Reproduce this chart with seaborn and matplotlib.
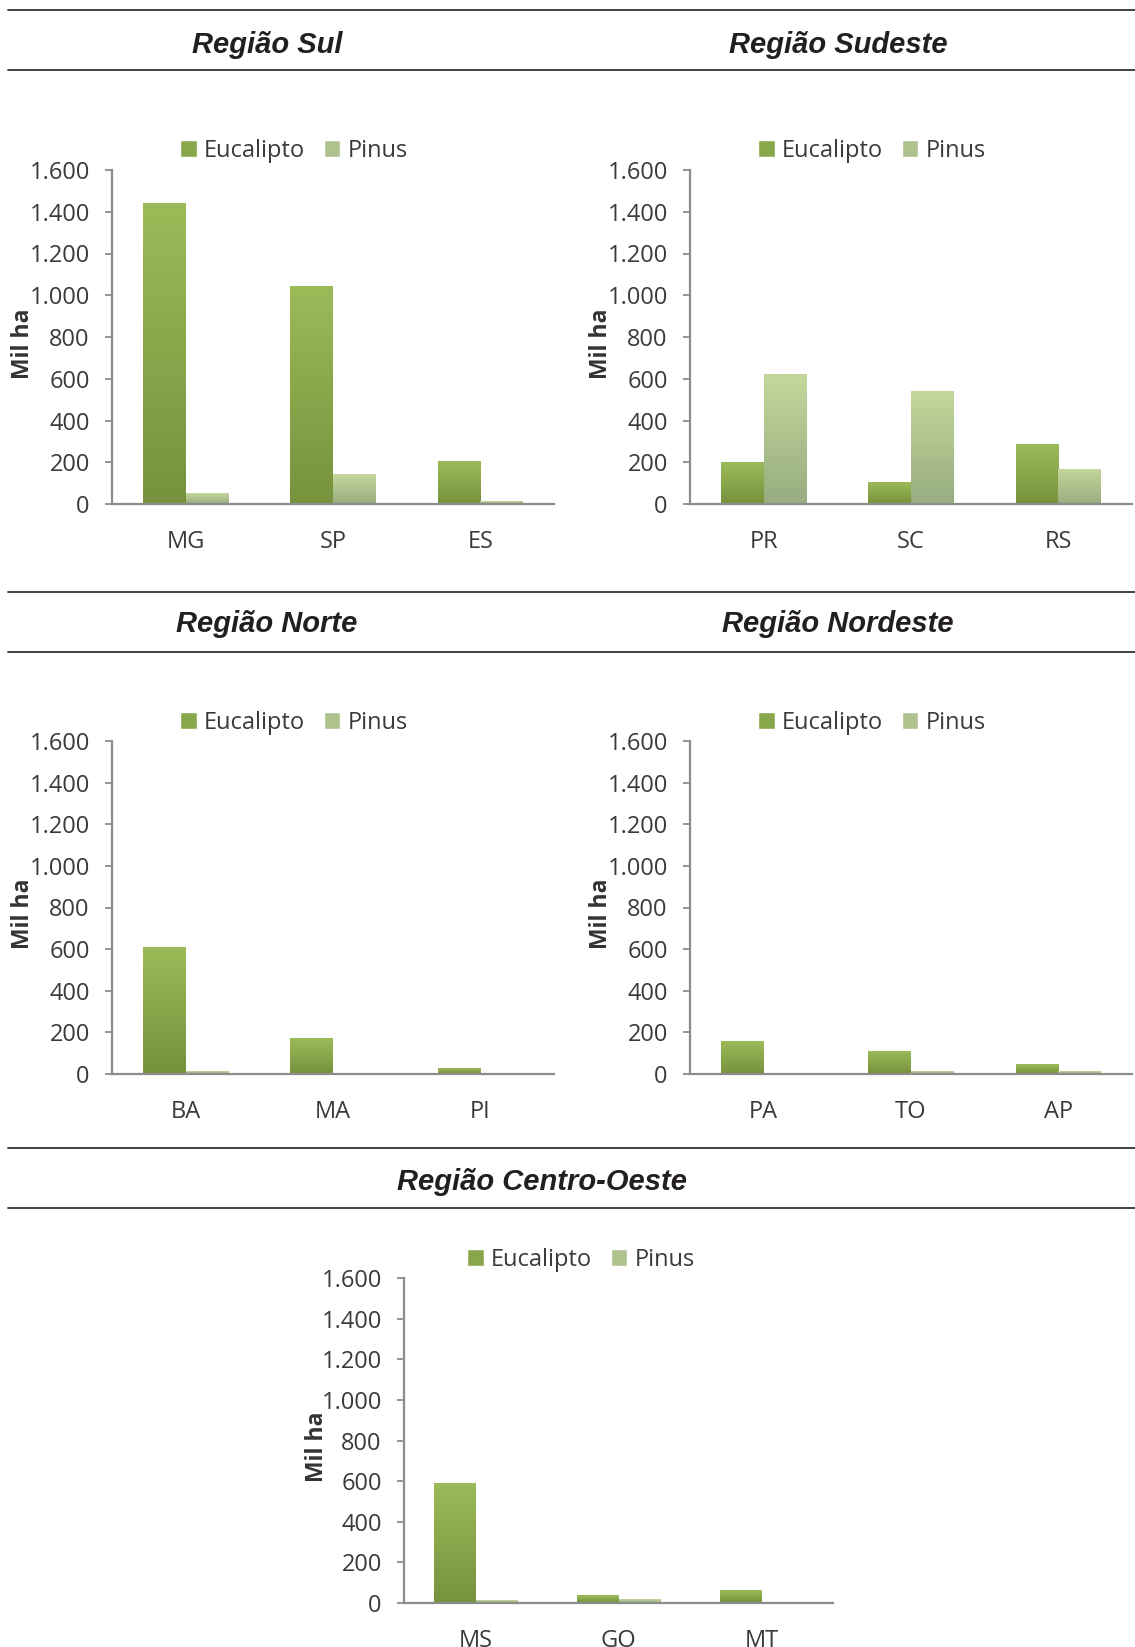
import numpy as np
import pandas as pd
import matplotlib
matplotlib.use("Agg")
import matplotlib.pyplot as plt
import seaborn as sns
from matplotlib.colors import LinearSegmentedColormap
from matplotlib.lines import Line2D
from matplotlib.patches import Patch
from matplotlib.ticker import FuncFormatter

# ---------------- data ----------------
species = ["Eucalipto", "Pinus"]

sul_states = ["MG", "SP", "ES"]
sul_euc = [1440, 1040, 205]
sul_pin = [50, 142, 12]

sudeste_states = ["PR", "SC", "RS"]
sudeste_euc = [200, 104, 287]
sudeste_pin = [621, 539, 167]

norte_states = ["BA", "MA", "PI"]
norte_euc = [610, 172, 26]
norte_pin = [11, 0, 0]

nordeste_states = ["PA", "TO", "AP"]
nordeste_euc = [157, 108, 45]
nordeste_pin = [0, 11, 11]

co_states = ["MS", "GO", "MT"]
co_euc = [587, 36, 61]
co_pin = [11, 16, 0]

titles = ["Região Sul", "Região Sudeste", "Região Norte", "Região Nordeste", "Região Centro-Oeste"]
y_ticks = [0, 200, 400, 600, 800, 1000, 1200, 1400, 1600]
y_label = "Mil ha"

# ---------------- style ----------------
sns.set_theme(style="white")
plt.rcParams["font.family"] = ["Open Sans", "DejaVu Sans"]

W, H = 1135, 1647
fig = plt.figure(figsize=(W / 100, H / 100), dpi=100)

def fx(px):
    return px / W

def fy(py):
    return 1 - py / H

EUC_TOP, EUC_BOT = "#9BBB59", "#76923C"
PIN_TOP, PIN_BOT = "#C3D69B", "#98AD80"
cmaps = {
    "Eucalipto": LinearSegmentedColormap.from_list("e", [EUC_BOT, EUC_TOP]),
    "Pinus": LinearSegmentedColormap.from_list("p", [PIN_BOT, PIN_TOP]),
}
AXIS_COLOR = "#8C8C8C"
TEXT_COLOR = "#3A3A3A"

panels = [
    # states, euc, pin, axes (left, right, y1600, y0), title (cx, baseline), legend (cx, cy)
    (sul_states, sul_euc, sul_pin, (112, 554, 170, 504), (267, 53), (294, 151)),
    (sudeste_states, sudeste_euc, sudeste_pin, (690, 1132, 170, 504), (838, 53), (872, 151)),
    (norte_states, norte_euc, norte_pin, (112, 554, 741, 1074), (267, 632), (294, 723)),
    (nordeste_states, nordeste_euc, nordeste_pin, (690, 1132, 741, 1074), (838, 632), (872, 723)),
    (co_states, co_euc, co_pin, (404, 833, 1278, 1603), (542, 1190), (581, 1260)),
]

# horizontal rules
for y in [10, 70, 592, 652, 1148, 1208]:
    fig.add_artist(Line2D([fx(8), 1.0], [fy(y), fy(y)], transform=fig.transFigure,
                          color="#333333", lw=1.3))

fmt = FuncFormatter(lambda v, p: f"{int(v):,}".replace(",", "."))

for (states, euc, pin, box, tpos, lpos), title in zip(panels, titles):
    l, r, t, b = box
    ax = fig.add_axes([fx(l), fy(b), (r - l) / W, (b - t) / H])
    df = pd.DataFrame({
        "estado": states * 2,
        "valor": list(euc) + list(pin),
        "especie": [species[0]] * len(states) + [species[1]] * len(states),
    })
    sns.barplot(data=df, x="estado", y="valor", hue="especie", hue_order=species,
                palette={"Eucalipto": EUC_TOP, "Pinus": PIN_TOP},
                width=0.58, ax=ax, legend=False, saturation=1)
    # gradient fill per bar
    grad = np.linspace(1, 0, 128).reshape(-1, 1)
    for cont, sp in zip(ax.containers, species):
        for bar in cont:
            x0, y0 = bar.get_x(), bar.get_y()
            w, h = bar.get_width(), bar.get_height()
            if h <= 0:
                bar.set_visible(False)
                continue
            ax.imshow(grad, cmap=cmaps[sp], vmin=0, vmax=1, origin="upper",
                      extent=[x0, x0 + w, y0, y0 + h], aspect="auto",
                      zorder=bar.get_zorder(), interpolation="bilinear")
            bar.set_facecolor("none")
            bar.set_edgecolor("none")
    ax.set_xlim(-0.5, 2.5)
    ax.set_ylim(0, 1600)
    ax.set_yticks(y_ticks)
    ax.yaxis.set_major_formatter(fmt)
    ax.set_xlabel("")
    ax.set_ylabel(y_label, fontsize=16.5, fontweight="bold", color="#333333")
    ax.yaxis.set_label_coords(-0.175, 0.48)
    for s in ["top", "right"]:
        ax.spines[s].set_visible(False)
    for s in ["left", "bottom"]:
        ax.spines[s].set_color(AXIS_COLOR)
        ax.spines[s].set_linewidth(1.6)
    ax.tick_params(axis="y", length=5, width=1.3, color=AXIS_COLOR, pad=11,
                   labelsize=17, labelcolor=TEXT_COLOR, left=True)
    ax.tick_params(axis="x", length=0, pad=19, labelsize=17, labelcolor=TEXT_COLOR)
    ax.set_facecolor("white")

    fig.text(fx(tpos[0]), fy(tpos[1]), title, ha="center", va="baseline",
             fontsize=21, fontweight="bold", fontstyle="italic",
             family=["Liberation Sans", "DejaVu Sans"], color="#231F20")

    handles = [Patch(facecolor="#88A74A"), Patch(facecolor="#AFC28E")]
    fig.legend(handles, species, loc="center", bbox_to_anchor=(fx(lpos[0]), fy(lpos[1])),
               ncol=2, frameon=False, fontsize=17, handlelength=0.7, handleheight=0.7,
               handletextpad=0.3, columnspacing=0.8, labelcolor=TEXT_COLOR,
               borderpad=0, borderaxespad=0)

fig.savefig("out.png", dpi=100)
